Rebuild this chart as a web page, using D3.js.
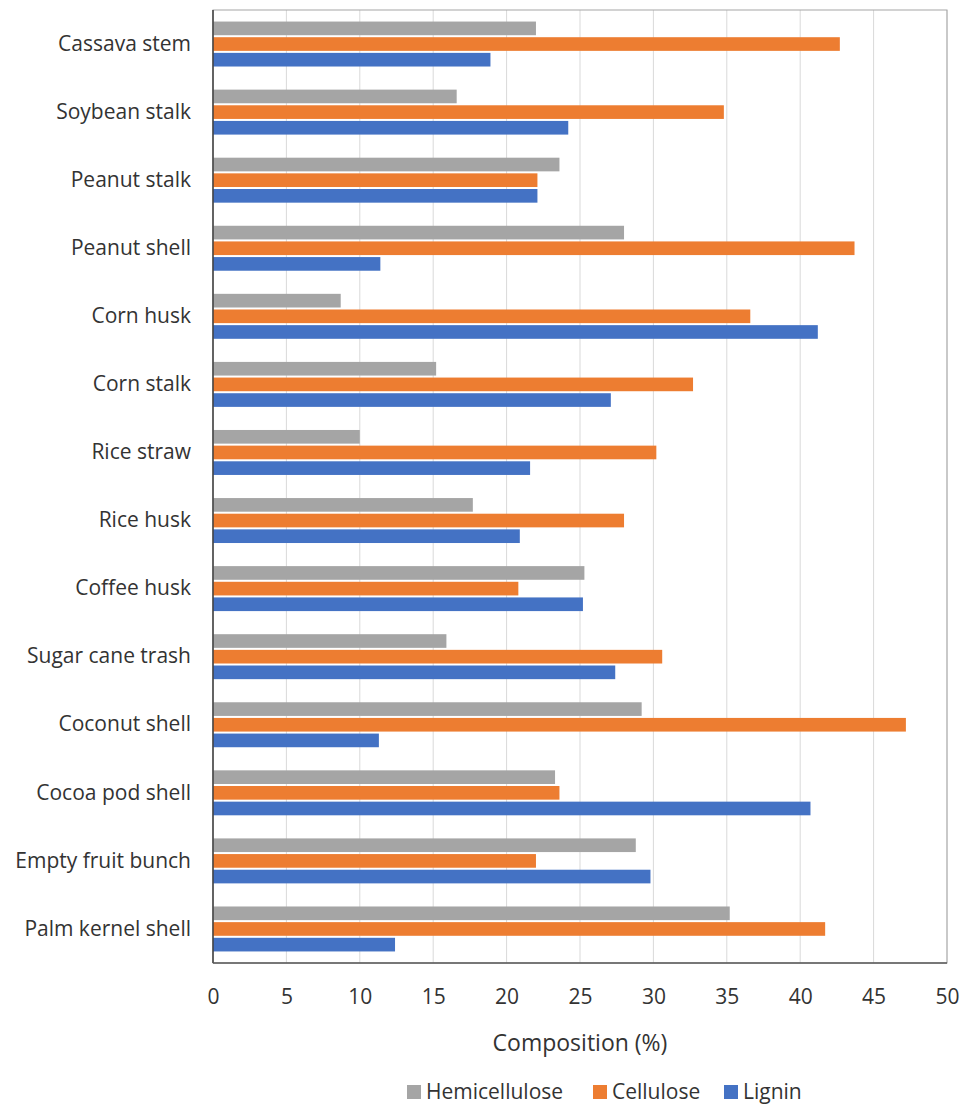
<!DOCTYPE html>
<html>
<head>
<meta charset="utf-8">
<script src="https://cdn.jsdelivr.net/npm/d3@7"></script>
<style>
  html, body { margin: 0; padding: 0; background: #fff; }
  svg { display: block; font-family: "Open Sans", Lato, sans-serif; }
</style>
</head>
<body>
<svg id="chart" width="963" height="1104"></svg>
<script>
// Biomass feedstocks, top to bottom
const categories = [
  "Cassava stem", "Soybean stalk", "Peanut stalk", "Peanut shell", "Corn husk",
  "Corn stalk", "Rice straw", "Rice husk", "Coffee husk", "Sugar cane trash",
  "Coconut shell", "Cocoa pod shell", "Empty fruit bunch", "Palm kernel shell"
];
// Composition (%) per series
const hemicellulose = [22.0, 16.6, 23.6, 28.0, 8.7, 15.2, 10.0, 17.7, 25.3, 15.9, 29.2, 23.3, 28.8, 35.2];
const cellulose     = [42.7, 34.8, 22.1, 43.7, 36.6, 32.7, 30.2, 28.0, 20.8, 30.6, 47.2, 23.6, 22.0, 41.7];
const lignin        = [18.9, 24.2, 22.1, 11.4, 41.2, 27.1, 21.6, 20.9, 25.2, 27.4, 11.3, 40.7, 29.8, 12.4];
const seriesNames = ["Hemicellulose", "Cellulose", "Lignin"];
const xTicks = [0, 5, 10, 15, 20, 25, 30, 35, 40, 45, 50];

const seriesValues = [hemicellulose, cellulose, lignin];
const colors = ["#A5A5A5", "#ED7D31", "#4472C4"];
const textColor = "#333333";
const fontSize = 21;

const svg = d3.select("#chart");
const margin = { left: 213, right: 16, top: 10, bottom: 141 };
const W = 963, H = 1104;
const plotW = W - margin.left - margin.right;
const plotH = H - margin.top - margin.bottom;

const x = d3.scaleLinear().domain([0, 50]).range([margin.left, margin.left + plotW]);
const y = d3.scaleBand().domain(categories).range([margin.top, margin.top + plotH])
  .paddingInner(0.31).paddingOuter(0.155);
const yInner = d3.scaleBand().domain(seriesNames).range([0, y.bandwidth()]);

// vertical gridlines
svg.append("g").selectAll("line").data(xTicks).join("line")
  .attr("x1", d => x(d)).attr("x2", d => x(d))
  .attr("y1", margin.top).attr("y2", margin.top + plotH)
  .attr("stroke", "#d9d9d9").attr("stroke-width", 1);

// plot frame
svg.append("rect")
  .attr("x", margin.left).attr("y", margin.top)
  .attr("width", plotW).attr("height", plotH)
  .attr("fill", "none").attr("stroke", "#a6a6a6").attr("stroke-width", 1);

// bars
const groups = svg.append("g").selectAll("g").data(categories).join("g")
  .attr("transform", d => `translate(0,${y(d)})`);
groups.selectAll("rect")
  .data((c, i) => seriesNames.map((s, k) => ({ s, k, v: seriesValues[k][i] })))
  .join("rect")
  .attr("x", x(0))
  .attr("y", d => yInner(d.s) + 1)
  .attr("width", d => x(d.v) - x(0))
  .attr("height", yInner.bandwidth() - 2)
  .attr("fill", d => colors[d.k]);

// left axis line
svg.append("line")
  .attr("x1", margin.left).attr("x2", margin.left)
  .attr("y1", margin.top).attr("y2", margin.top + plotH)
  .attr("stroke", "#404040").attr("stroke-width", 1.5);
// bottom axis line
svg.append("line")
  .attr("x1", margin.left).attr("x2", margin.left + plotW)
  .attr("y1", margin.top + plotH).attr("y2", margin.top + plotH)
  .attr("stroke", "#595959").attr("stroke-width", 1.5);

// category labels
const yAxis = d3.axisLeft(y).tickSize(0).tickPadding(22);
svg.append("g").attr("transform", `translate(${margin.left},0)`).call(yAxis)
  .call(g => g.select(".domain").remove())
  .selectAll("text")
  .attr("font-size", fontSize).attr("fill", textColor)
  .attr("font-family", "'Open Sans', Lato, sans-serif");

// x tick labels
const xAxis = d3.axisBottom(x).tickValues(xTicks).tickSize(0).tickPadding(26);
svg.append("g").attr("transform", `translate(0,${margin.top + plotH})`).call(xAxis)
  .call(g => g.select(".domain").remove())
  .selectAll("text")
  .attr("font-size", fontSize).attr("fill", textColor)
  .attr("font-family", "'Open Sans', Lato, sans-serif");

// x axis title
svg.append("text")
  .attr("x", (x(0) + x(50)) / 2).attr("y", 1051)
  .attr("text-anchor", "middle")
  .attr("font-size", 23).attr("fill", textColor)
  .text("Composition (%)");

// legend
const legendX = [407, 593, 724];
const legend = svg.append("g").selectAll("g").data(seriesNames).join("g")
  .attr("transform", (d, i) => `translate(${legendX[i]},1085)`);
legend.append("rect").attr("width", 14).attr("height", 14)
  .attr("fill", (d, i) => colors[i]);
legend.append("text").attr("x", 19).attr("y", 14)
  .attr("font-size", fontSize).attr("fill", textColor)
  .text(d => d);
</script>
</body>
</html>
